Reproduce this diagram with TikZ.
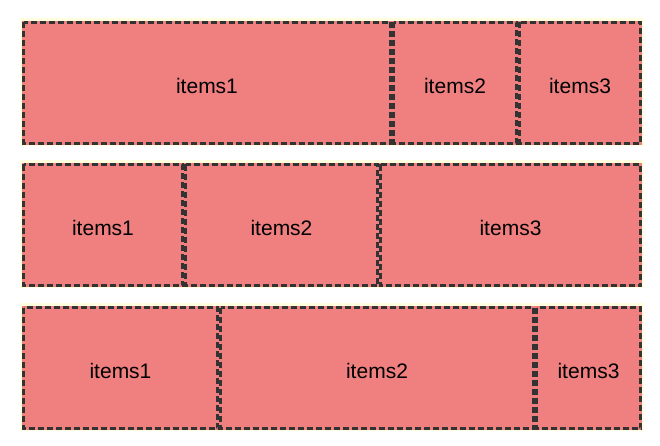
\documentclass[tikz,border=0pt]{standalone}
\usepackage{fontspec}
\setmainfont{Liberation Sans}
\definecolor{itemfill}{HTML}{F08080}
\definecolor{itemline}{HTML}{333333}
\definecolor{boxbg}{HTML}{FFFFE0}
\tikzset{
  item/.style={fill=itemfill, inner sep=0pt, outer sep=0pt},
  itemtext/.style={inner sep=0pt, font=\fontsize{21}{25}\selectfont, text=black, yshift=-3pt},
  itemborder/.style={draw=itemline, line width=3pt, dash pattern=on 6pt off 3pt},
  rowbg/.style={fill=boxbg}
}
\newcommand{\itembox}[5]{% name, x1, x2, ycenter, text
  \node[item, minimum width={#3-#2}, minimum height=124pt] (#1) at ({(#2+#3)/2}, #4) {};
  \draw[itemborder] ([shift={(1.5pt,-1.5pt)}]#1.north west) rectangle ([shift={(-1.5pt,1.5pt)}]#1.south east);
  \node[itemtext] (#1t) at (#1.center) {#5};
}
\begin{document}
\begin{tikzpicture}[x=1pt,y=1pt]
\useasboundingbox (0,0) rectangle (660,445);
\fill[white] (0,0) rectangle (660,445);
% row backgrounds
\fill[rowbg] (20,299) rectangle (644,427);
\fill[rowbg] (20,157) rectangle (644,285);
\fill[rowbg] (20,14) rectangle (644,142);
% row 1
\itembox{ra}{22}{392}{362}{items1}
\itembox{rb}{392}{518}{362}{items2}
\itembox{rc}{518}{642}{362}{items3}
% row 2
\itembox{sa}{22}{184}{220}{items1}
\itembox{sb}{184}{379}{220}{items2}
\itembox{sc}{379}{642}{220}{items3}
% row 3
\itembox{ta}{22}{219}{77}{items1}
\itembox{tb}{219}{535}{77}{items2}
\itembox{tc}{535}{642}{77}{items3}
\end{tikzpicture}
\end{document}
